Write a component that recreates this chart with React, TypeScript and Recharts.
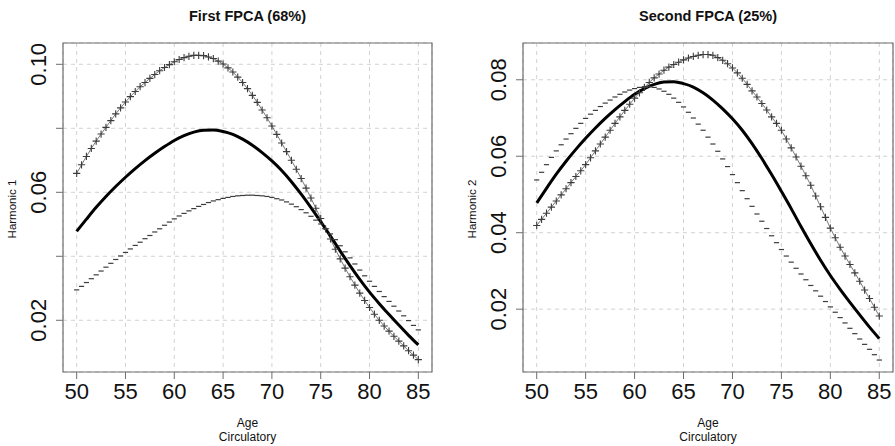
import React from 'react';
import { LineChart, Line, XAxis, YAxis, CartesianGrid, ReferenceArea } from 'recharts';

const FONT = 'Liberation Sans, Arial, Helvetica, sans-serif';

// Sampling grid of the perturbation curves (ages)
const AGES = [
  50, 50.5, 51, 51.5, 52, 52.5, 53, 53.5, 54, 54.5, 55, 55.5, 56, 56.5, 57, 57.5, 58, 58.5,
  59, 59.5, 60, 60.5, 61, 61.5, 62, 62.5, 63, 63.5, 64, 64.5, 65, 65.5, 66, 66.5, 67, 67.5,
  68, 68.5, 69, 69.5, 70, 70.5, 71, 71.5, 72, 72.5, 73, 73.5, 74, 74.5, 75, 75.5, 76, 76.5,
  77, 77.5, 78, 78.5, 79, 79.5, 80, 80.5, 81, 81.5, 82, 82.5, 83, 83.5, 84, 84.5, 85,
];

// Mean function (shared by both panels)
const MEAN_AGES = [
  50, 51, 52, 53, 54, 55, 56, 57, 58, 59, 60, 61, 62, 63, 64, 65, 66, 67,
  68, 69, 70, 71, 72, 73, 74, 75, 76, 77, 78, 79, 80, 81, 82, 83, 84, 85,
];
const MEAN = [
  0.0478, 0.0516, 0.0553, 0.0587, 0.0618, 0.0647, 0.0674, 0.0699, 0.0722, 0.0743, 0.0762, 0.0777,
  0.0788, 0.0794, 0.0795, 0.0790, 0.0781, 0.0766, 0.0747, 0.0724, 0.0698, 0.0668, 0.0633, 0.0594,
  0.0552, 0.0508, 0.0463, 0.0416, 0.0371, 0.0328, 0.0288, 0.0252, 0.0218, 0.0185, 0.0153, 0.0123,
];

// First FPCA: mean + / - harmonic 1
const PLUS_1 = [
  0.0659, 0.0686, 0.0712, 0.0737, 0.0760, 0.0782, 0.0803, 0.0824, 0.0845, 0.0864, 0.0882, 0.0899,
  0.0915, 0.0930, 0.0943, 0.0956, 0.0968, 0.0980, 0.0990, 0.0999, 0.1008, 0.1015, 0.1021, 0.1025,
  0.1028, 0.1028, 0.1027, 0.1023, 0.1018, 0.1010, 0.1001, 0.0989, 0.0976, 0.0960, 0.0943, 0.0924,
  0.0903, 0.0881, 0.0857, 0.0833, 0.0807, 0.0781, 0.0754, 0.0727, 0.0700, 0.0672, 0.0643, 0.0613,
  0.0582, 0.0550, 0.0518, 0.0486, 0.0454, 0.0422, 0.0392, 0.0363, 0.0336, 0.0310, 0.0285, 0.0262,
  0.0240, 0.0219, 0.0200, 0.0182, 0.0166, 0.0150, 0.0135, 0.0120, 0.0105, 0.0091, 0.0077,
];
const MINUS_1 = [
  0.0295, 0.0306, 0.0318, 0.0330, 0.0342, 0.0354, 0.0366, 0.0378, 0.0390, 0.0401, 0.0412, 0.0423,
  0.0434, 0.0444, 0.0455, 0.0465, 0.0476, 0.0486, 0.0497, 0.0507, 0.0517, 0.0526, 0.0534, 0.0542,
  0.0549, 0.0556, 0.0562, 0.0568, 0.0573, 0.0577, 0.0581, 0.0584, 0.0587, 0.0589, 0.0590, 0.0591,
  0.0591, 0.0590, 0.0589, 0.0587, 0.0584, 0.0580, 0.0576, 0.0570, 0.0563, 0.0555, 0.0546, 0.0536,
  0.0525, 0.0513, 0.0501, 0.0486, 0.0470, 0.0452, 0.0433, 0.0414, 0.0395, 0.0376, 0.0357, 0.0339,
  0.0322, 0.0306, 0.0290, 0.0274, 0.0259, 0.0244, 0.0229, 0.0214, 0.0199, 0.0184, 0.0170,
];

// Second FPCA: mean + / - harmonic 2
const PLUS_2 = [
  0.0419, 0.0435, 0.0451, 0.0467, 0.0483, 0.0499, 0.0515, 0.0531, 0.0547, 0.0562, 0.0578, 0.0596,
  0.0614, 0.0632, 0.0650, 0.0668, 0.0686, 0.0703, 0.0720, 0.0736, 0.0752, 0.0766, 0.0780, 0.0793,
  0.0805, 0.0815, 0.0825, 0.0833, 0.0840, 0.0846, 0.0852, 0.0857, 0.0861, 0.0864, 0.0866, 0.0866,
  0.0864, 0.0858, 0.0851, 0.0842, 0.0831, 0.0818, 0.0804, 0.0788, 0.0771, 0.0755, 0.0738, 0.0721,
  0.0703, 0.0686, 0.0668, 0.0645, 0.0622, 0.0598, 0.0574, 0.0549, 0.0524, 0.0496, 0.0468, 0.0440,
  0.0412, 0.0387, 0.0362, 0.0339, 0.0317, 0.0295, 0.0273, 0.0250, 0.0228, 0.0205, 0.0182,
];
const MINUS_2 = [
  0.0538, 0.0558, 0.0578, 0.0597, 0.0614, 0.0630, 0.0645, 0.0659, 0.0673, 0.0686, 0.0699, 0.0710,
  0.0720, 0.0730, 0.0739, 0.0747, 0.0755, 0.0762, 0.0768, 0.0773, 0.0777, 0.0780, 0.0782, 0.0782,
  0.0780, 0.0776, 0.0770, 0.0762, 0.0752, 0.0741, 0.0729, 0.0715, 0.0700, 0.0684, 0.0668, 0.0650,
  0.0632, 0.0613, 0.0593, 0.0573, 0.0552, 0.0531, 0.0510, 0.0489, 0.0469, 0.0449, 0.0430, 0.0411,
  0.0392, 0.0374, 0.0356, 0.0339, 0.0323, 0.0307, 0.0292, 0.0277, 0.0262, 0.0248, 0.0234, 0.0220,
  0.0206, 0.0192, 0.0178, 0.0164, 0.0150, 0.0136, 0.0122, 0.0108, 0.0095, 0.0081, 0.0067,
];

const X_TICKS = [50, 55, 60, 65, 70, 75, 80, 85];
const Y_TICKS_1 = [0.02, 0.04, 0.06, 0.08, 0.1];
const Y_LABELS_1 = ['0.02', '', '0.06', '', '0.10'];
const Y_TICKS_2 = [0.02, 0.04, 0.06, 0.08];
const Y_LABELS_2 = ['0.02', '0.04', '0.06', '0.08'];
const TITLES = ['First FPCA (68%)', 'Second FPCA (25%)'];
const Y_TITLES = ['Harmonic 1', 'Harmonic 2'];
const X_TITLE = 'Age';
const X_SUBTITLE = 'Circulatory';

const X_DOMAIN: [number, number] = [48.6, 86.4];
const Y_DOMAIN_1: [number, number] = [0.00384, 0.10666];
const Y_DOMAIN_2: [number, number] = [0.00357, 0.08962];

function buildRows(plus: number[], minus: number[]) {
  return AGES.map((age, i) => {
    const mi = MEAN_AGES.indexOf(age);
    return { age, plus: plus[i], minus: minus[i], mean: mi >= 0 ? MEAN[mi] : null };
  });
}

const ROWS_1 = buildRows(PLUS_1, MINUS_1);
const ROWS_2 = buildRows(PLUS_2, MINUS_2);

const AXIS_GREY = '#6e6e6e';
const MARK = '#3c3c3c';

const PlusDot = (props: any) => {
  const { cx, cy, index } = props;
  if (cx == null || cy == null) return <g key={`p-${index}`} />;
  return (
    <path
      key={`p-${index}`}
      d={`M${cx - 3.6},${cy}h7.2M${cx},${cy - 3.6}v7.2`}
      stroke={MARK}
      strokeWidth={1.1}
      fill="none"
    />
  );
};

const MinusDot = (props: any) => {
  const { cx, cy, index } = props;
  if (cx == null || cy == null) return <g key={`m-${index}`} />;
  return (
    <path
      key={`m-${index}`}
      d={`M${cx - 2.6},${cy}h5.2`}
      stroke={MARK}
      strokeWidth={1.2}
      fill="none"
    />
  );
};

const XTick = (props: any) => {
  const { x, y, payload } = props;
  return (
    <text x={x} y={y + 10} textAnchor="middle" dominantBaseline="central" fontSize={22} fontFamily={FONT} fill="#111">
      {String(payload.value)}
    </text>
  );
};

const makeYTick = (ticks: number[], labels: string[]) => (props: any) => {
  const { x, y, payload } = props;
  const idx = ticks.findIndex((t) => Math.abs(t - payload.value) < 1e-9);
  const label = idx >= 0 ? labels[idx] : '';
  return (
    <text
      transform={`translate(${x - 16},${y}) rotate(-90)`}
      textAnchor="middle"
      dominantBaseline="central"
      fontSize={22}
      fontFamily={FONT}
      fill="#111"
    >
      {label}
    </text>
  );
};

const YTick1 = makeYTick(Y_TICKS_1, Y_LABELS_1);
const YTick2 = makeYTick(Y_TICKS_2, Y_LABELS_2);

type PanelProps = {
  left: number;
  width: number;
  yAxisWidth: number;
  marginRight: number;
  rows: any[];
  yDomain: [number, number];
  yTicks: number[];
  YTick: any;
};

function Panel({ left, width, yAxisWidth, marginRight, rows, yDomain, yTicks, YTick }: PanelProps) {
  return (
    <div style={{ position: 'absolute', left, top: 0, width, height: 446 }}>
      <LineChart width={width} height={446} data={rows} margin={{ top: 43, right: marginRight, bottom: 0, left: 0 }}>
        <CartesianGrid stroke="#d2d2d2" strokeDasharray="4 4" />
        <XAxis
          dataKey="age"
          type="number"
          domain={X_DOMAIN}
          ticks={X_TICKS}
          allowDataOverflow
          interval={0}
          height={74}
          axisLine={false}
          tickSize={7}
          tickMargin={2}
          tickLine={{ stroke: AXIS_GREY }}
          tick={<XTick />}
        />
        <YAxis
          type="number"
          domain={yDomain}
          ticks={yTicks}
          allowDataOverflow
          interval={0}
          width={yAxisWidth}
          axisLine={false}
          tickSize={7}
          tickMargin={2}
          tickLine={{ stroke: AXIS_GREY }}
          tick={<YTick />}
        />
        <ReferenceArea
          x1={X_DOMAIN[0]}
          x2={X_DOMAIN[1]}
          y1={yDomain[0]}
          y2={yDomain[1]}
          fill="none"
          fillOpacity={0}
          stroke={AXIS_GREY}
          strokeWidth={1.2}
          ifOverflow="visible"
        />
        <Line
          dataKey="minus"
          stroke="none"
          dot={MinusDot}
          activeDot={false}
          isAnimationActive={false}
        />
        <Line
          dataKey="plus"
          type="linear"
          stroke="#555"
          strokeWidth={0.8}
          dot={PlusDot}
          activeDot={false}
          isAnimationActive={false}
        />
        <Line
          dataKey="mean"
          type="monotone"
          stroke="#000"
          strokeWidth={3}
          dot={false}
          activeDot={false}
          connectNulls
          isAnimationActive={false}
        />
      </LineChart>
    </div>
  );
}

export default function App() {
  return (
    <div style={{ position: 'absolute', left: 0, top: 0, width: 895, height: 446, background: '#fff', fontFamily: FONT }}>
      <Panel left={0} width={450} yAxisWidth={63} marginRight={18} rows={ROWS_1} yDomain={Y_DOMAIN_1} yTicks={Y_TICKS_1} YTick={YTick1} />
      <Panel left={450} width={445} yAxisWidth={73} marginRight={2} rows={ROWS_2} yDomain={Y_DOMAIN_2} yTicks={Y_TICKS_2} YTick={YTick2} />
      <svg
        width={895}
        height={446}
        style={{ position: 'absolute', left: 0, top: 0, pointerEvents: 'none' }}
        fontFamily={FONT}
      >
        <text x={247.5} y={21} textAnchor="middle" fontSize={14.5} fontWeight="bold" fill="#111">{TITLES[0]}</text>
        <text x={708} y={21} textAnchor="middle" fontSize={14.5} fontWeight="bold" fill="#111">{TITLES[1]}</text>
        <text transform="translate(12,209) rotate(-90)" textAnchor="middle" dominantBaseline="central" fontSize={11.5} fill="#111">{Y_TITLES[0]}</text>
        <text transform="translate(472,209) rotate(-90)" textAnchor="middle" dominantBaseline="central" fontSize={11.5} fill="#111">{Y_TITLES[1]}</text>
        <text x={247.5} y={427} textAnchor="middle" fontSize={12} fill="#111">{X_TITLE}</text>
        <text x={247.5} y={441} textAnchor="middle" fontSize={12} fill="#111">{X_SUBTITLE}</text>
        <text x={708} y={427} textAnchor="middle" fontSize={12} fill="#111">{X_TITLE}</text>
        <text x={708} y={441} textAnchor="middle" fontSize={12} fill="#111">{X_SUBTITLE}</text>
      </svg>
    </div>
  );
}
